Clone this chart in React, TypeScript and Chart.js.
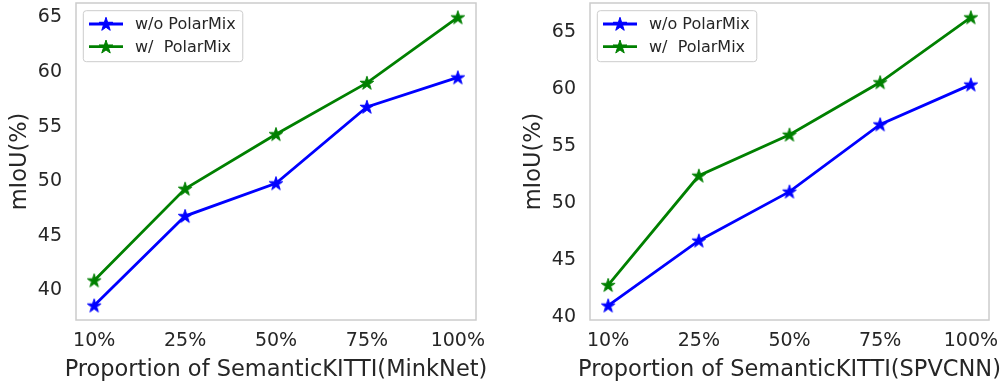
import React, { useEffect, useRef } from "react";
import { Chart, registerables } from "chart.js";
Chart.register(...registerables);

const categories = ["10%", "25%", "50%", "75%", "100%"];
const seriesLabels = ["w/o PolarMix", "w/  PolarMix"];
const minkWithout = [38.6, 46.8, 49.8, 56.8, 59.5];
const minkWith = [40.9, 49.3, 54.3, 59.0, 65.0];
const spvWithout = [41.0, 46.7, 51.0, 56.9, 60.4];
const spvWith = [42.8, 52.4, 56.0, 60.6, 66.3];
const yTickValues = [40, 45, 50, 55, 60, 65];
const xTitles = ["Proportion of SemanticKITTI(MinkNet)", "Proportion of SemanticKITTI(SPVCNN)"];
const yTitle = "mIoU(%)";

const BLUE = "#0000ff";
const GREEN = "#008000";
const TEXT = "#262626";
const FONT = "'DejaVu Sans', sans-serif";

function makeStar(color: string, R = 7.2): HTMLCanvasElement {
  const c = document.createElement("canvas");
  const s = 18;
  c.width = s;
  c.height = s;
  const ctx = c.getContext("2d")!;
  drawStar(ctx, s / 2, s / 2 + 0.5, R, color);
  return c;
}

function drawStar(ctx: CanvasRenderingContext2D, cx: number, cy: number, R: number, color: string) {
  const r = R * 0.381966;
  ctx.save();
  ctx.beginPath();
  for (let i = 0; i < 10; i++) {
    const rad = i % 2 === 0 ? R : r;
    const a = -Math.PI / 2 + (i * Math.PI) / 5;
    const x = cx + rad * Math.cos(a);
    const y = cy + rad * Math.sin(a);
    if (i === 0) ctx.moveTo(x, y);
    else ctx.lineTo(x, y);
  }
  ctx.closePath();
  ctx.fillStyle = color;
  ctx.fill();
  ctx.strokeStyle = color;
  ctx.lineWidth = 1;
  ctx.lineJoin = "miter";
  ctx.stroke();
  ctx.restore();
}

const framePlugin = {
  id: "frame",
  afterDatasetsDraw(chart: any) {
    const { ctx, chartArea: a } = chart;
    ctx.save();
    ctx.strokeStyle = "#cccccc";
    ctx.lineWidth = 1.5;
    ctx.strokeRect(a.left, a.top, a.right - a.left, a.bottom - a.top);
    ctx.restore();
  },
};

const titlePlugin = {
  id: "axisTitles",
  afterDraw(chart: any, _args: any, opts: any) {
    const { ctx, chartArea: a } = chart;
    ctx.save();
    ctx.fillStyle = TEXT;
    ctx.font = `22.5px ${FONT}`;
    ctx.textAlign = "center";
    ctx.textBaseline = "middle";
    ctx.fillText(opts.xText, (a.left + a.right) / 2, 370);
    ctx.translate(opts.yX, (a.top + a.bottom) / 2);
    ctx.rotate(-Math.PI / 2);
    ctx.fillText(opts.yText, 0, 0);
    ctx.restore();
  },
};

const legendPlugin = {
  id: "starLegend",
  afterDraw(chart: any) {
    const { ctx, chartArea: a } = chart;
    const ds = chart.data.datasets;
    ctx.save();
    ctx.font = `16px ${FONT}`;
    let tw = 0;
    ds.forEach((d: any) => (tw = Math.max(tw, ctx.measureText(d.label).width)));
    const bx = a.left + 7.3;
    const by = a.top + 7.7;
    const bw = 51.7 + tw + 7;
    const bh = 51;
    ctx.beginPath();
    (ctx as any).roundRect(bx, by, bw, bh, 3);
    ctx.fillStyle = "rgba(255,255,255,0.85)";
    ctx.fill();
    ctx.strokeStyle = "#cccccc";
    ctx.lineWidth = 1;
    ctx.stroke();
    ds.forEach((d: any, i: number) => {
      const y = by + 13.3 + i * 22.7;
      ctx.beginPath();
      ctx.moveTo(bx + 5.7, y);
      ctx.lineTo(bx + 39.7, y);
      ctx.strokeStyle = d.borderColor;
      ctx.lineWidth = 2.8;
      ctx.stroke();
      drawStar(ctx, bx + 22.7, y + 0.5, 7.2, d.borderColor);
      ctx.fillStyle = TEXT;
      ctx.textBaseline = "middle";
      ctx.textAlign = "left";
      ctx.fillText(d.label, bx + 51.7, y + 1);
    });
    ctx.restore();
  },
};

type Props = {
  without: number[];
  withP: number[];
  xTitle: string;
  padLeft: number;
  padRight: number;
  width: number;
  left: number;
  yTitleX: number;
};

function PanelChart({ without, withP, xTitle, padLeft, padRight, width, left, yTitleX }: Props) {
  const ref = useRef<HTMLCanvasElement>(null);
  useEffect(() => {
    if (!ref.current) return;
    const all = [...without, ...withP];
    const lo = Math.min(...all);
    const hi = Math.max(...all);
    const m = (hi - lo) * 0.05;
    const toPts = (arr: number[]) => arr.map((v, i) => ({ x: i, y: v }));
    const chart = new Chart(ref.current, {
      type: "line",
      data: {
        datasets: [
          {
            label: seriesLabels[0],
            data: toPts(without),
            borderColor: BLUE,
            backgroundColor: BLUE,
            borderWidth: 2.8,
            pointStyle: makeStar(BLUE) as any,
            pointRadius: 7,
            order: 1,
            clip: false as any,
          },
          {
            label: seriesLabels[1],
            data: toPts(withP),
            borderColor: GREEN,
            backgroundColor: GREEN,
            borderWidth: 2.8,
            pointStyle: makeStar(GREEN) as any,
            pointRadius: 7,
            order: 0,
            clip: false as any,
          },
        ],
      },
      options: {
        animation: false,
        responsive: false,
        layout: { autoPadding: false, padding: { left: padLeft, top: 3, right: padRight, bottom: 0 } },
        plugins: {
          legend: { display: false },
          tooltip: { enabled: false },
          axisTitles: { xText: xTitle, yText: yTitle, yX: yTitleX },
        } as any,
        scales: {
          x: {
            type: "linear",
            min: -0.2,
            max: categories.length - 1 + 0.2,
            grid: { display: false, drawTicks: false },
            border: { display: false },
            afterBuildTicks: (s: any) => {
              s.ticks = categories.map((_, i) => ({ value: i }));
            },
            afterFit: (s: any) => {
              s.height = 66;
              s.paddingLeft = 0;
              s.paddingRight = 0;
            },
            ticks: {
              color: TEXT,
              font: { family: FONT, size: 19 },
              padding: 10,
              maxRotation: 0,
              autoSkip: false,
              callback: (v: any) => categories[v as number] ?? "",
            },
          },
          y: {
            type: "linear",
            min: lo - m,
            max: hi + m,
            grid: { display: false, drawTicks: false },
            border: { display: false },
            afterBuildTicks: (s: any) => {
              s.ticks = yTickValues.map((v) => ({ value: v }));
            },
            afterFit: (s: any) => {
              s.width = 76;
              s.paddingTop = 0;
              s.paddingBottom = 0;
            },
            ticks: {
              color: TEXT,
              font: { family: FONT, size: 19 },
              padding: 14,
              autoSkip: false,
            },
          },
        },
      },
      plugins: [framePlugin, legendPlugin, titlePlugin],
    });
    return () => chart.destroy();
  }, []);
  return (
    <div style={{ position: "absolute", left, top: 0, width, height: 386 }}>
      <canvas ref={ref} width={width} height={386} style={{ display: "block" }} />
    </div>
  );
}

export default function App() {
  return (
    <div style={{ position: "fixed", left: 0, top: 0, width: 1006, height: 386, background: "#ffffff" }}>
      <PanelChart without={minkWithout} withP={minkWith} xTitle={xTitles[0]} padLeft={0} padRight={24} width={500} left={0} yTitleX={20.5} />
      <PanelChart without={spvWithout} withP={spvWith} xTitle={xTitles[1]} padLeft={14} padRight={17} width={506} left={500} yTitleX={34.5} />
    </div>
  );
}
